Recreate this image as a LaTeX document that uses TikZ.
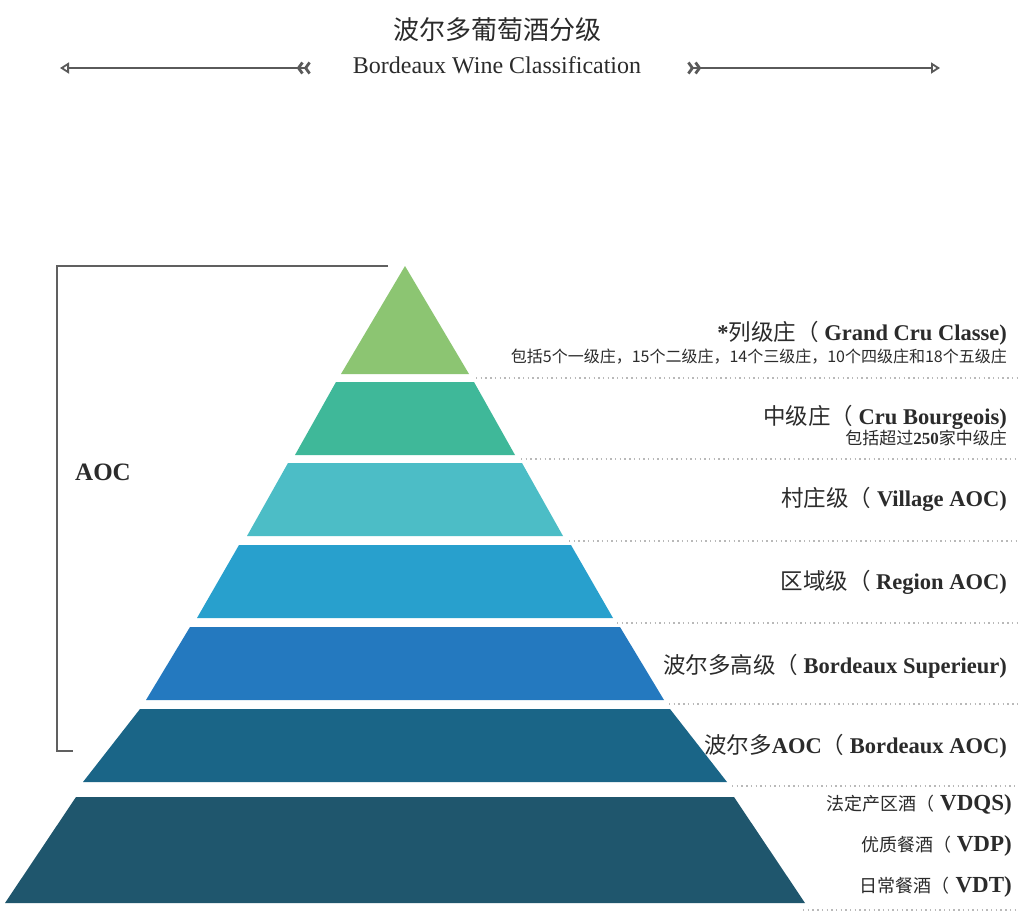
\documentclass[tikz,border=0pt]{standalone}
\usepackage{fontspec}
\setmainfont{Liberation Serif}
\newfontfamily\cjk{Noto Sans CJK SC}
\usetikzlibrary{arrows.meta,positioning}
\definecolor{lvA}{HTML}{8CC572}
\definecolor{lvB}{HTML}{3FB899}
\definecolor{lvC}{HTML}{4CBDC6}
\definecolor{lvD}{HTML}{28A0CD}
\definecolor{lvE}{HTML}{2479BF}
\definecolor{lvF}{HTML}{1A6587}
\definecolor{lvG}{HTML}{1F566D}
\definecolor{inkgray}{HTML}{2B2B2B}
\definecolor{wingray}{HTML}{5A5A5A}
\newcommand{\fsz}[1]{\fontsize{#1}{#1}\selectfont}
\newcommand{\zh}[1]{{\cjk\mdseries #1}}
\newcommand{\zhs}[1]{{\cjk\mdseries\fsz{18}#1}}
\tikzset{
  chev/.tip={Straight Barb[reversed, length=4pt, width=11pt, line width=2.8pt]},
  wingtip/.tip={Triangle[open, length=9pt, width=11pt, line width=1.8pt]}
}

\begin{document}
\begin{tikzpicture}[x=1pt, y=-1pt,
  lvl/.style={anchor=east, inner sep=0pt, text=inkgray, font=\fsz{22.5}\bfseries},
  lvlsmall/.style={lvl, font=\fsz{23}\bfseries},
  sepline/.style={gray!55, line width=1.4pt, dash pattern=on 1.4pt off 3.3pt},
  wing/.style={draw=wingray, line width=1.8pt}]
  \useasboundingbox (0,0) rectangle (1034,918);
  \fill[white] (0,0) rectangle (1034,918);

  % ---- heading ----
  \node[text=inkgray, font=\cjk\fsz{26}] (title) at (497,30) {波尔多葡萄酒分级};
  \node[text=inkgray, font=\fsz{24}] (subtitle) at (497,65) {Bordeaux Wine Classification};
  \coordinate (wl1) at (60,68);  \coordinate (wl2) at (311,68);
  \coordinate (wr1) at (687,68); \coordinate (wr2) at (940,68);
  \draw[wing, {wingtip[]}-{chev[]chev[]}] (wl1) -- (wl2);
  \draw[wing, {chev[]chev[]}-{wingtip[]}] (wr1) -- (wr2);

  % ---- pyramid: top/bottom y, top/bottom half width, colour ----
  \foreach \yt/\yb/\wt/\wb/\col in {266/374/0/64/lvA, 382/455/69/110/lvB,
      463/536/117/158/lvC, 545/618/166/208/lvD, 627/700/215/259/lvE,
      709/782/265/322/lvF, 797/903/329/400/lvG}
    \fill[\col] (405-\wt,\yt) -- (405+\wt,\yt) -- (405+\wb,\yb) -- (405-\wb,\yb) -- cycle;

  % dotted separators on the right
  \foreach \y/\xs in {378/476, 459/521, 541/569, 623/617, 704/669, 786/732, 910/803}
    \draw[sepline] (\xs,\y) -- (1017,\y);

  % ---- AOC bracket ----
  \draw[gray!75!black, line width=2.6pt] (388,266) -- (57,266) -- (57,751) -- (73,751);
  \node[text=inkgray, font=\fsz{25}\bfseries] (aoc) at (103,472) {AOC};

  % ---- level labels ----
  \node[lvl] (gcc) at (1007,333) {*\zh{列级庄（} Grand Cru Classe)};
  \node[anchor=east, inner sep=0pt, text=inkgray, font=\cjk\fsz{16}] (gccsub) at (1007,357)
    {包括5个一级庄，15个二级庄，14个三级庄，10个四级庄和18个五级庄};
  \node[lvl] (cbg) at (1007,417) {\zh{中级庄（} Cru Bourgeois)};
  \node[anchor=east, inner sep=0pt, text=inkgray, font=\fsz{17}\bfseries] (cbgsub) at (1007,438)
    {\zh{包括超过}250\zh{家中级庄}};
  \node[lvl] (vil) at (1007,499) {\zh{村庄级（} Village AOC)};
  \node[lvl] (reg) at (1007,582) {\zh{区域级（} Region AOC)};
  \node[lvl] (sup) at (1007,666) {\zh{波尔多高级（} Bordeaux Superieur)};
  \node[lvl] (bdx) at (1007,746) {\zh{波尔多}AOC\zh{（} Bordeaux AOC)};
  \node[lvlsmall] (vdqs) at (1012,805) {\zhs{法定产区酒（} VDQS)};
  \node[lvlsmall] (vdp) at (1012,846) {\zhs{优质餐酒（} VDP)};
  \node[lvlsmall] (vdt) at (1012,887) {\zhs{日常餐酒（} VDT)};
\end{tikzpicture}
\end{document}
